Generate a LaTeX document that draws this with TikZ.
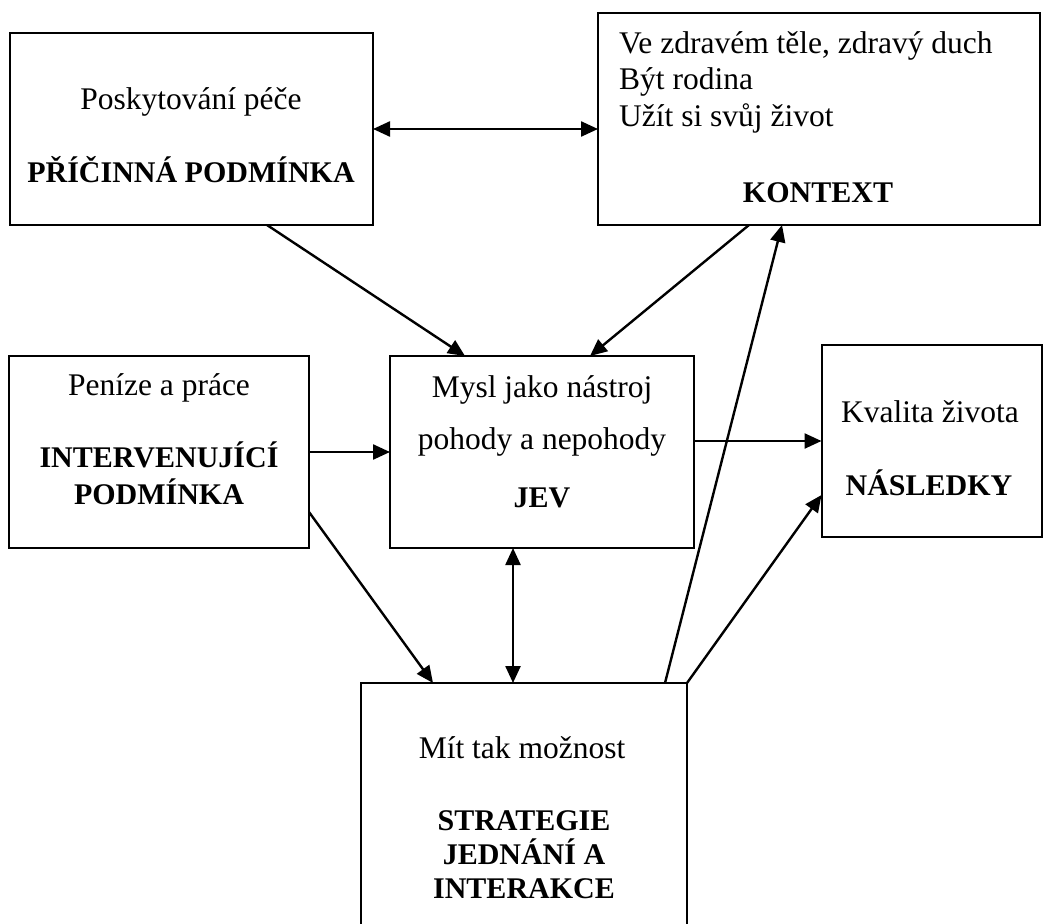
\documentclass[tikz,border=0pt]{standalone}
\usepackage{fontspec}
\setmainfont{Liberation Serif}
\usetikzlibrary{arrows.meta}
\newcommand\fsz{\fontsize{31.5}{36}\selectfont}
\newcommand\fszb{\fontsize{30}{34}\selectfont\bfseries}
\begin{document}
\begin{tikzpicture}[x=1pt,y=-1pt,
  box/.style={draw, line width=2pt, inner sep=0pt, outer sep=0pt},
  txt/.style={anchor=base, inner sep=0pt, font=\fsz},
  txtb/.style={anchor=base, inner sep=0pt, font=\fszb},
  arr/.style={line width=2.4pt, -{Triangle[length=17pt,width=15pt]}},
  darr/.style={line width=2.4pt, {Triangle[length=17pt,width=15pt]}-{Triangle[length=17pt,width=15pt]}}]
\fill[white] (0,0) rectangle (1043,923);
\useasboundingbox (0,0) rectangle (1043,923);

% boxes
\node[box, minimum width=363pt, minimum height=192pt] (b1) at (191.5,129) {};
\node[box, minimum width=442pt, minimum height=212pt] (b2) at (819,119) {};
\node[box, minimum width=300pt, minimum height=192pt] (b3) at (159,452) {};
\node[box, minimum width=304pt, minimum height=192pt] (b4) at (542,452) {};
\node[box, minimum width=220pt, minimum height=192pt] (b5) at (931.5,441) {};
\node[box, minimum width=326pt, minimum height=257pt] (b6) at (524,811.5) {};

% texts
\node[txt]  (t1a) at (191,110) {Poskytování péče};
\node[txtb] (t1b) at (191,182) {PŘÍČINNÁ PODMÍNKA};

\node[txt, anchor=base west] (t2a) at (619,54) {Ve zdravém těle, zdravý duch};
\node[txt, anchor=base west] (t2b) at (619,90) {Být rodina};
\node[txt, anchor=base west] (t2c) at (619,127) {Užít si svůj život};
\node[txtb] (t2d) at (818,202) {KONTEXT};

\node[txt]  (t3a) at (159,395) {Peníze a práce};
\node[txtb] (t3b) at (159,467) {INTERVENUJÍCÍ};
\node[txtb] (t3c) at (159,504) {PODMÍNKA};

\node[txt]  (t4a) at (542,397) {Mysl jako nástroj};
\node[txt]  (t4b) at (542,449) {pohody a nepohody};
\node[txtb] (t4c) at (542,507) {JEV};

\node[txt]  (t5a) at (930,422) {Kvalita života};
\node[txtb] (t5b) at (929,495) {NÁSLEDKY};

\node[txt]  (t6a) at (522,758) {Mít tak možnost};
\node[txtb] (t6b) at (524,830) {STRATEGIE};
\node[txtb] (t6c) at (524,864) {JEDNÁNÍ A};
\node[txtb] (t6d) at (524,898) {INTERAKCE};

% connectors
\draw[darr] (b1.east) -- (b1.east -| b2.west);
\draw[arr] ([xshift=257pt]b1.south west) -- ([xshift=75pt]b4.north west);
\draw[arr] ([xshift=151pt]b2.south west) -- ([xshift=200pt]b4.north west);
\draw[arr] ([xshift=304pt]b6.north west) -- ([xshift=184pt]b2.south west);
\draw[arr] (b3.east) -- (b4.west);
\draw[arr] (b4.east |- b5.west) -- (b5.west);
\draw[arr] ([yshift=36pt]b3.south east) -- ([xshift=72pt]b6.north west);
\draw[darr] ([xshift=-29pt]b4.south) -- ([xshift=-11pt]b6.north);
\draw[arr] (b6.north east) -- ([yshift=42pt]b5.south west);
\end{tikzpicture}
\end{document}
